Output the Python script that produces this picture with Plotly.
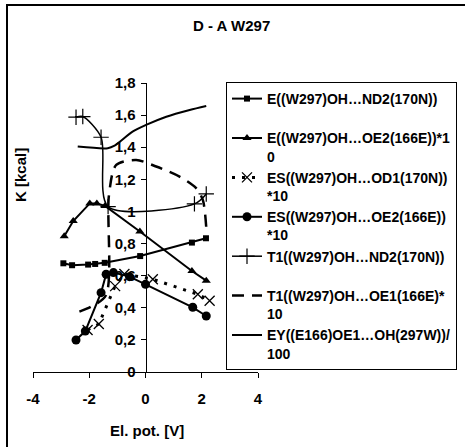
import plotly.graph_objects as go

# ---- data ----
e_nd2_x = [-2.92, -2.61, -2.04, -1.79, -1.45, -0.19, 1.65, 2.15]
e_nd2_y = [0.677, 0.665, 0.669, 0.673, 0.680, 0.722, 0.806, 0.833]

e_oe2_x = [-2.89, -2.57, -1.98, -1.73, -1.44, -0.2, 1.65, 2.16]
e_oe2_y = [0.845, 0.940, 1.050, 1.050, 1.034, 0.875, 0.629, 0.569]

es_od1_x = [-2.06, -1.66, -1.08, -0.75, 0.26, 1.86, 2.28]
es_od1_y = [0.262, 0.299, 0.535, 0.610, 0.578, 0.484, 0.444]

es_oe2_x = [-2.47, -2.14, -1.58, -1.40, -1.14, -0.57, 0.0, 1.68, 2.16]
es_oe2_y = [0.199, 0.255, 0.494, 0.609, 0.619, 0.594, 0.546, 0.403, 0.349]

t1_nd2_x = [-2.47, -2.23, -1.58, -1.33, 1.74, 2.16]
t1_nd2_y = [1.587, 1.591, 1.462, 1.030, 1.047, 1.109]

t1_oe1_x = [-2.35, -1.93, -1.40, -1.30, -1.04, -0.33, 0.38, 1.21, 1.80, 2.04, 2.16]
t1_oe1_y = [0.376, 0.407, 0.48, 1.10, 1.29, 1.32, 1.28, 1.217, 1.145, 1.07, 0.90]

ey_x = [-2.41, -1.34, -1.1, -0.46, 0.02, 0.74, 1.57, 2.16]
ey_y = [1.404, 1.394, 1.41, 1.497, 1.539, 1.590, 1.632, 1.657]

names = [
    "E((W297)OH…ND2(170N))<br>\u00a0",
    "E((W297)OH…OE2(166E))*1<br>0",
    "ES((W297)OH…OD1(170N))<br>*10",
    "ES((W297)OH…OE2(166E))<br>*10",
    "T1((W297)OH…ND2(170N))<br>\u00a0",
    "T1((W297)OH…OE1(166E)*<br>10",
    "EY((E166)OE1…OH(297W))/<br>100",
]

y_ticks = [0, 0.2, 0.4, 0.6, 0.8, 1.0, 1.2, 1.4, 1.6, 1.8]
y_ticktext = ["0", "0,2", "0,4", "0,6", "0,8", "1", "1,2", "1,4", "1,6", "1,8"]
x_ticks = [-4, -2, 0, 2, 4]
x_ticktext = ["-4", "-2", "0", "2", "4"]

FONT = "Liberation Sans, Arial, sans-serif"
K = "black"
BIG = dict(family=FONT, size=15, color=K, weight="bold")

W, H = 465, 447
L, T = 33, 83
PW, PH = 225, 289
R = W - L - PW
B = H - T - PH


def px_x(p):
    return (p - L) / PW


def px_y(p):
    return (T + PH - p) / PH


fig = go.Figure()
fig.add_trace(go.Scatter(x=e_nd2_x, y=e_nd2_y, name=names[0], mode="lines+markers",
                         line=dict(color=K, width=2),
                         marker=dict(symbol="square", size=6, color=K)))
fig.add_trace(go.Scatter(x=e_oe2_x, y=e_oe2_y, name=names[1], mode="lines+markers",
                         line=dict(color=K, width=2),
                         marker=dict(symbol="triangle-up", size=8, color=K)))
fig.add_trace(go.Scatter(x=es_od1_x, y=es_od1_y, name=names[2], mode="lines+markers",
                         line=dict(color=K, width=3, dash="3px,7px"),
                         marker=dict(symbol="x-thin", size=10, color=K, line=dict(color=K, width=1.3))))
fig.add_trace(go.Scatter(x=es_oe2_x, y=es_oe2_y, name=names[3], mode="lines+markers",
                         line=dict(color=K, width=2),
                         marker=dict(symbol="circle", size=9, color=K)))
fig.add_trace(go.Scatter(x=t1_nd2_x, y=t1_nd2_y, name=names[4], mode="lines+markers",
                         line=dict(color=K, width=1.5, shape="spline", smoothing=0.8),
                         marker=dict(symbol="cross-thin", size=11, color=K, line=dict(color=K, width=1.2))))
fig.add_trace(go.Scatter(x=t1_oe1_x, y=t1_oe1_y, name=names[5], mode="lines",
                         line=dict(color=K, width=2.5, dash="12px,8px", shape="spline", smoothing=0.8)))
fig.add_trace(go.Scatter(x=ey_x, y=ey_y, name=names[6], mode="lines",
                         line=dict(color=K, width=2, shape="spline", smoothing=0.8)))

fig.update_layout(
    width=W, height=H,
    margin=dict(l=L, r=R, t=T, b=B, autoexpand=False),
    paper_bgcolor="white", plot_bgcolor="white",
    font=BIG,
    showlegend=True,
    legend=dict(x=px_x(226), y=px_y(82), xanchor="left", yanchor="top",
                bordercolor=K, borderwidth=1, bgcolor="white",
                font=dict(family=FONT, size=14, color=K, weight="bold"),
                valign="top", itemwidth=30, maxheight=1000),
    xaxis=dict(range=[-4, 4], tickvals=x_ticks, ticktext=x_ticktext,
               showgrid=False, zeroline=False, showline=True, linecolor=K, linewidth=1,
               ticks="outside", ticklen=5, tickcolor=K, ticklabelstandoff=8,
               tickfont=BIG),
    yaxis=dict(range=[0, 1.8], tickvals=y_ticks, ticktext=y_ticktext,
               anchor="free", position=0.5,
               showgrid=False, zeroline=False, showline=True, linecolor=K, linewidth=1,
               ticks="outside", ticklen=5, tickcolor=K, ticklabelstandoff=2,
               tickfont=BIG),
)

for txt, ax, ay, ang in [("D - A W297", 231, 25, 0),
                         ("K [kcal]", 20, 175, -90),
                         ("El. pot. [V]", 147, 430, 0)]:
    fig.add_annotation(text=txt, xref="paper", yref="paper", x=px_x(ax), y=px_y(ay),
                       xanchor="center", yanchor="middle", textangle=ang,
                       showarrow=False, font=BIG)

fig.add_shape(type="rect", xref="paper", yref="paper",
              x0=px_x(7), x1=px_x(475), y0=px_y(455), y1=px_y(5),
              line=dict(color=K, width=2), fillcolor="rgba(0,0,0,0)", layer="below")

fig.write_html("out.html",
               config={"displayModeBar": False},
               post_script="document.body.style.margin='0';document.body.style.overflow='hidden';")
